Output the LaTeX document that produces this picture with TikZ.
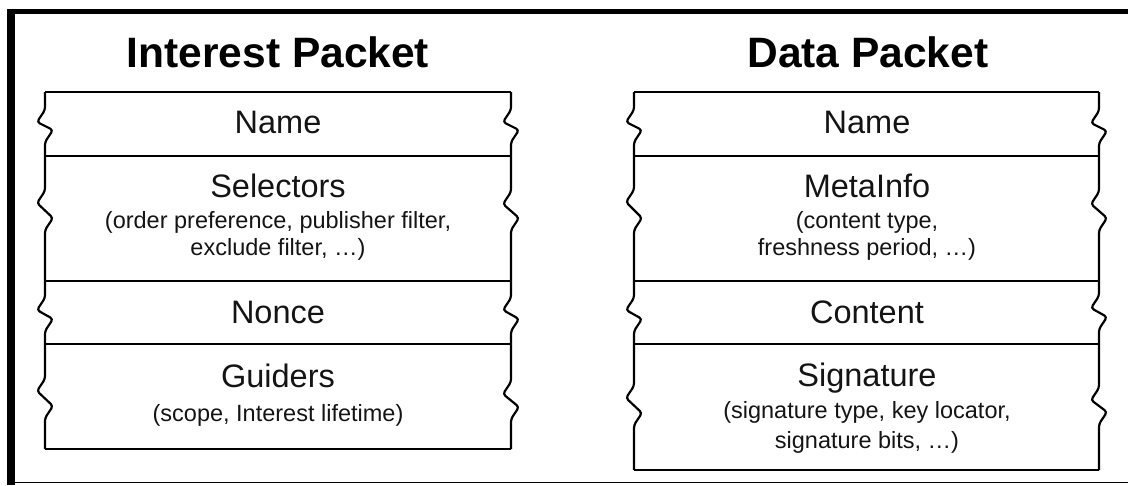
\documentclass[tikz,border=0pt]{standalone}
\usepackage{fontspec}
\setmainfont{Liberation Sans}
\newcommand\wigside[5]{\draw[boxline] (#1,#2) -- (#1,#4-12) -- (#1-8,#4) -- (#1+8,#5) -- (#1,#5+12) -- (#1,#3);}
\tikzset{
  ptitle/.style={font=\fontsize{42.5}{50}\selectfont\bfseries, anchor=base, inner sep=0pt},
  plabel/.style={font=\fontsize{32.5}{38}\selectfont, anchor=base, inner sep=0pt, text=black!92},
  psub/.style={font=\fontsize{23.5}{28}\selectfont, anchor=base, inner sep=0pt, text=black!92},
  boxline/.style={line width=2.2pt, rounded corners=3pt, line join=round},
  divline/.style={line width=2.4pt},
}
\begin{document}
\begin{tikzpicture}[x=1pt,y=-1pt]
\useasboundingbox (0,0) rectangle (1128,485);
% frame
\fill[black] (7,9) rectangle (1128,14);
\fill[black] (7,9) rectangle (15,485);
\draw[line width=1.6pt] (15,482.5) -- (1128,482.5);

% Interest packet box
\foreach \yy in {92,156,281,344,449} {\draw[divline] (45,\yy) -- (511,\yy);}
\wigside{45}{92}{156}{122}{130}
\wigside{45}{156}{281}{203}{218}
\wigside{45}{281}{344}{310}{319}
\wigside{45}{344}{449}{391}{406}
\wigside{511}{92}{156}{122}{130}
\wigside{511}{156}{281}{204}{218}
\wigside{511}{281}{344}{310}{319}
\wigside{511}{344}{449}{394}{407}

% Data packet box
\foreach \yy in {92,156,281,344,470} {\draw[divline] (634,\yy) -- (1099,\yy);}
\wigside{634}{92}{156}{122}{130}
\wigside{634}{156}{281}{202}{218}
\wigside{634}{281}{344}{310}{319}
\wigside{634}{344}{470}{398}{413}
\wigside{1099}{92}{156}{123}{131}
\wigside{1099}{156}{281}{204}{218}
\wigside{1099}{281}{344}{308}{317}
\wigside{1099}{344}{470}{400}{412}

% Interest texts
\node[ptitle] (ititle) at (278,67) {Interest Packet};
\node[plabel] (iname) at (278,133) {Name};
\node[plabel] (isel) at (278,197) {Selectors};
\node[psub] (isel1) at (278,228) {(order preference, publisher filter,};
\node[psub] (isel2) at (278,255) {exclude filter, …)};
\node[plabel] (inonce) at (278,323) {Nonce};
\node[plabel] (iguid) at (278,387) {Guiders};
\node[psub] (iguid1) at (278,421) {(scope, Interest lifetime)};

% Data texts
\node[ptitle] (dtitle) at (868,67) {Data Packet};
\node[plabel] (dname) at (867,133) {Name};
\node[plabel] (dmeta) at (867,197) {MetaInfo};
\node[psub] (dmeta1) at (867,228) {(content type,};
\node[psub] (dmeta2) at (867,255) {freshness period, …)};
\node[plabel] (dcont) at (867,323) {Content};
\node[plabel] (dsig) at (867,386) {Signature};
\node[psub] (dsig1) at (867,418) {(signature type, key locator,};
\node[psub] (dsig2) at (867,448) {signature bits, …)};
\end{tikzpicture}
\end{document}
